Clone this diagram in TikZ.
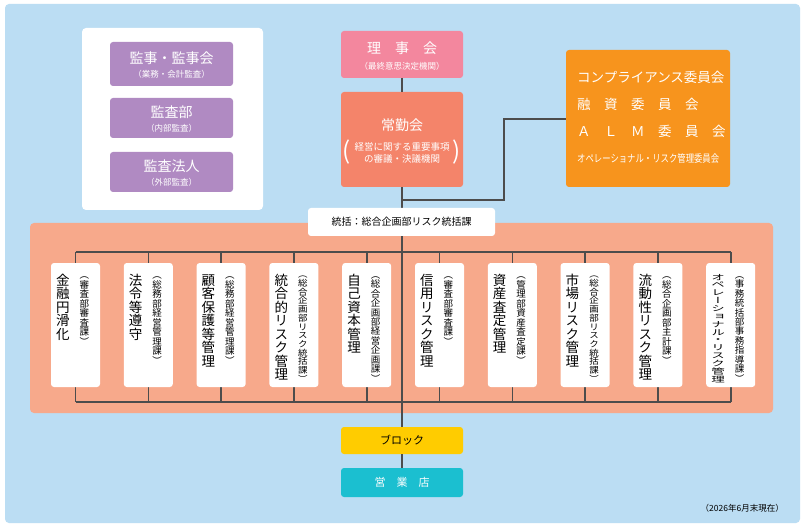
\documentclass[tikz,border=0pt]{standalone}
\usepackage{fontspec}
\setmainfont{Noto Sans CJK JP}
\newfontfamily\vfont[RawFeature={vertical}]{Noto Sans CJK JP}
\newsavebox\fitbox
\newcommand\fitto[2]{\sbox\fitbox{#2}\ifdim\wd\fitbox>#1\resizebox{#1}{\ht\fitbox}{\usebox\fitbox}\else\usebox\fitbox\fi}
\begin{document}
\begin{tikzpicture}[x=1pt,y=-1pt,
  bx/.style={rounded corners=3pt,draw=none},
  ln/.style={draw=black!70,line width=1.6pt},
  hd/.style={font=\fontsize{14}{16}\selectfont,text=white,align=center},
  sb/.style={font=\fontsize{8.5}{10}\selectfont,text=white},
  vm/.style={rotate=-90,anchor=west,inner sep=0pt,font=\vfont\fontsize{13.5}{16}\selectfont},
  vs/.style={rotate=-90,anchor=west,inner sep=0pt,font=\vfont\fontsize{9.5}{12}\selectfont}]
\definecolor{bg}{HTML}{BBDDF3}
\definecolor{pu}{HTML}{B08AC2}
\definecolor{pk}{HTML}{F3879E}
\definecolor{sa}{HTML}{F4846A}
\definecolor{or}{HTML}{F7941D}
\definecolor{band}{HTML}{F7A98B}
\definecolor{ye}{HTML}{FFCC00}
\definecolor{cy}{HTML}{1BBFD0}
\useasboundingbox (0,0) rectangle (805,529);
\fill[white] (0,0) rectangle (805,529);
\fill[bg,rounded corners=4pt] (5,4) rectangle (800,523);
\fill[white,rounded corners=4pt] (82,28) rectangle (263,210);
\foreach \n/\a/\b/\t/\s in {k1/42/86/監事・監事会/（業務・会計監査）,k2/98/138/監査部/（内部監査）,k3/152/192/監査法人/（外部監査）}{
  \fill[pu,bx] (110,\a) rectangle (233,\b);
  \node[hd,inner sep=0pt] (\n) at (171.5,{(\a+\b)/2-6}) {\t};
  \node[sb,inner sep=0pt] (\n s) at (171.5,{(\a+\b)/2+10}) {\s};
}
% board
\fill[pk,bx] (341,31) rectangle (463,78);
\node[hd,inner sep=0pt] (rj) at (402,48) {理　事　会};
\node[sb,inner sep=0pt] (rjs) at (402,66) {（最終意思決定機関）};
\fill[sa,bx] (341,92) rectangle (463,187);
\node[hd,inner sep=0pt] (jk) at (402,125) {常勤会};
\node[inner sep=0pt,align=center,text=white,font=\fontsize{9.5}{11.5}\selectfont] (jks) at (402,153) {経営に関する重要事項\\の審議・決議機関};
\node[text=white,inner sep=0pt,font=\fontsize{24}{24}\selectfont] at (347,152) {(};
\node[text=white,inner sep=0pt,font=\fontsize{24}{24}\selectfont] at (457,152) {)};
\fill[or,bx] (566,50) rectangle (730,187);
\node[text=white,inner sep=0pt,font=\fontsize{13.5}{14}\selectfont,anchor=west] (c1) at (577,77) {\fitto{148pt}{コンプライアンス委員会}};
\node[text=white,inner sep=0pt,font=\fontsize{13.5}{14}\selectfont,anchor=west] (c2) at (577,104) {融　資　委　員　会};
\node[text=white,inner sep=0pt,font=\fontsize{13.5}{14}\selectfont,anchor=west] (c3) at (577,131) {Ａ　Ｌ　Ｍ　委　員　会};
\node[text=white,inner sep=0pt,font=\fontsize{10.5}{11}\selectfont,anchor=west] (c4) at (577,158) {\fitto{142pt}{オペレーショナル・リスク管理委員会}};
\coordinate (rb) at (402,78);
\coordinate (jt) at (402,92);
\draw[ln] (rb) -- (jt);
\coordinate (j1) at (402,200);
\coordinate (j2) at (504,200);
\coordinate (j3) at (504,119);
\coordinate (ol) at (566,119);
\draw[ln] (402,187) -- (j1) -- (j2) -- (j3) -- (ol);
% band
\fill[band,rounded corners=4pt] (30,223) rectangle (773,413);
\draw[ln] (402,200) -- (402,428);
\fill[white,bx] (308,208) rectangle (495,236);
\node[inner sep=0pt,font=\fontsize{10}{12}\selectfont] (tk) at (401.5,222) {統括：総合企画部リスク統括課};
\draw[ln] (75.5,252) -- (730.5,252);
\draw[ln] (75.5,402) -- (730.5,402);
\foreach \i/\m/\s in {0/金融円滑化/（審査部審査課）,1/法令等遵守/（総務部経営管理課）,2/顧客保護等管理/（総務部経営管理課）,3/統合的リスク管理/（総合企画部リスク統括課）,4/自己資本管理/（総合企画部経営企画課）,5/信用リスク管理/（審査部審査課）,6/資産査定管理/（管理部資産査定課）,7/市場リスク管理/（総合企画部リスク統括課）,8/流動性リスク管理/（総合企画部主計課）,9/オペレーショナル・リスク管理/（事務統括部事務指導課）}{
  \pgfmathsetmacro\xl{51+72.8*\i}
  \draw[ln] (\xl+24.5,252) -- (\xl+24.5,402);
  \fill[white,bx] (\xl,263) rectangle (\xl+49,387);
  \node[vm] (m\i) at (\xl+17,273) {\fitto{110pt}{\m}};
  \node[vs] (s\i) at (\xl+37,270) {\fitto{113pt}{\s}};
}
\fill[ye,bx] (341,427) rectangle (463,454);
\node[inner sep=0pt,font=\fontsize{11}{12}\selectfont] (bl) at (402,440.5) {ブロック};
\fill[cy,bx] (341,468) rectangle (463,497);
\node[inner sep=0pt,font=\fontsize{11}{12}\selectfont,text=white] (eg) at (402,482.5) {営　業　店};
\draw[ln] (402,454) -- (402,468);
\node[inner sep=0pt,font=\fontsize{8.5}{10}\selectfont,anchor=east] (dt) at (784,508) {（2026年6月末現在）};
\end{tikzpicture}
\end{document}
